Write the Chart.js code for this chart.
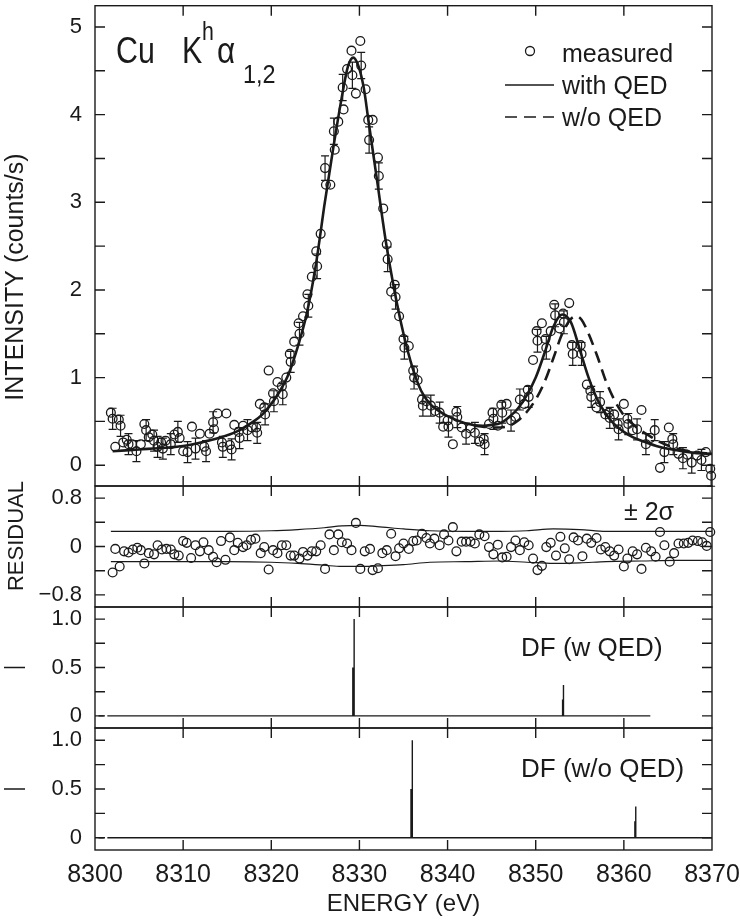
<!DOCTYPE html>
<html>
<head>
<meta charset="utf-8">
<script src="https://cdn.jsdelivr.net/npm/chart.js@4.4.0/dist/chart.umd.min.js"></script>
<style>
  body { margin: 0; background: #fff; }
  #wrap { position: relative; width: 740px; height: 921px; }
  #wrap canvas { position: absolute; left: 0; top: 0; }
</style>
</head>
<body>
<div id="wrap">
  <canvas id="intensity" width="740" height="921"></canvas>
  <canvas id="residual" width="740" height="921"></canvas>
  <canvas id="dfQed" width="740" height="921"></canvas>
  <canvas id="dfNoQed" width="740" height="921"></canvas>
</div>
<script>
// x axis
var energyTicks = [8300, 8310, 8320, 8330, 8340, 8350, 8360, 8370];

// measured spectrum (counts/s), err = 0 means no bar drawn
var measEnergy = [8301.8, 8302.0, 8302.3, 8302.7, 8302.9, 8303.2, 8303.6, 8303.8, 8304.2, 8304.7,
  8305.2, 8305.6, 8305.8, 8306.1, 8306.5, 8306.7, 8307.1, 8307.5, 8307.7, 8308.0,
  8308.6, 8309.0, 8309.4, 8309.6, 8310.0, 8310.5, 8311.0, 8311.4, 8311.9, 8312.4,
  8312.6, 8313.0, 8313.4, 8313.5, 8313.9, 8314.4, 8314.5, 8314.9, 8315.3, 8315.5,
  8315.8, 8316.3, 8316.4, 8316.8, 8317.3, 8317.8, 8318.3, 8318.4, 8318.7, 8319.2,
  8319.3, 8319.7, 8320.2, 8320.3, 8320.7, 8321.2, 8321.3, 8321.7, 8322.1, 8322.2,
  8322.6, 8323.1, 8323.2, 8323.6, 8324.1, 8324.2, 8324.6, 8325.1, 8325.2, 8325.6,
  8326.1, 8326.2, 8326.7, 8327.1, 8327.2, 8327.6, 8328.1, 8328.2, 8328.6, 8329.1,
  8329.2, 8329.6, 8330.1, 8330.2, 8330.7, 8331.0, 8331.1, 8331.5, 8332.1, 8332.2,
  8332.7, 8333.1, 8333.2, 8333.6, 8334.0, 8334.1, 8334.5, 8335.0, 8335.1, 8335.6,
  8336.1, 8336.2, 8336.6, 8337.1, 8337.2, 8337.6, 8338.1, 8338.6, 8339.1, 8339.5,
  8340.0, 8340.1, 8340.6, 8341.0, 8341.1, 8341.6, 8342.1, 8342.6, 8343.1, 8343.6,
  8344.1, 8344.2, 8344.7, 8345.1, 8345.2, 8345.7, 8346.1, 8346.2, 8346.7, 8347.2,
  8347.7, 8348.2, 8348.7, 8349.1, 8349.2, 8349.7, 8350.1, 8350.2, 8350.7, 8351.1,
  8351.2, 8351.7, 8352.1, 8352.2, 8352.7, 8353.1, 8353.2, 8353.8, 8354.1, 8354.2,
  8355.1, 8355.2, 8355.8, 8356.2, 8356.3, 8356.9, 8357.3, 8357.9, 8358.3, 8358.4,
  8358.9, 8359.3, 8359.4, 8360.0, 8360.4, 8360.5, 8361.0, 8361.5, 8362.0, 8362.5,
  8363.0, 8363.5, 8364.1, 8364.6, 8365.1, 8365.5, 8365.6, 8366.2, 8366.7, 8367.2,
  8367.7, 8368.3, 8368.8, 8369.3, 8369.8, 8369.9];
var measCounts = [0.60, 0.53, 0.21, 0.52, 0.45, 0.26, 0.29, 0.24, 0.24, 0.16,
  0.24, 0.47, 0.40, 0.32, 0.35, 0.28, 0.21, 0.26, 0.19, 0.28,
  0.24, 0.35, 0.38, 0.31, 0.16, 0.15, 0.44, 0.19, 0.36, 0.21,
  0.16, 0.36, 0.49, 0.41, 0.59, 0.26, 0.21, 0.59, 0.23, 0.18,
  0.46, 0.38, 0.31, 0.45, 0.40, 0.43, 0.43, 0.37, 0.70, 0.66,
  0.58, 1.08, 0.82, 0.73, 0.95, 0.90, 0.81, 1.00, 1.27, 1.18,
  1.41, 1.62, 1.50, 1.70, 1.95, 1.82, 2.15, 2.44, 2.27, 2.64,
  3.39, 3.20, 3.20, 3.81, 3.60, 3.92, 4.31, 4.06, 4.52, 4.73,
  4.45, 4.24, 4.84, 4.56, 4.29, 3.94, 3.71, 3.94, 3.51, 3.30,
  2.93, 2.52, 2.35, 1.98, 2.06, 1.92, 1.70, 1.44, 1.34, 1.36,
  1.08, 1.00, 0.97, 0.75, 0.68, 0.73, 0.68, 0.62, 0.60, 0.44,
  0.51, 0.44, 0.24, 0.61, 0.55, 0.43, 0.36, 0.42, 0.37, 0.27,
  0.30, 0.24, 0.47, 0.60, 0.53, 0.45, 0.69, 0.60, 0.70, 0.51,
  0.55, 0.75, 0.70, 0.86, 0.78, 1.20, 1.53, 1.42, 1.62, 1.44,
  1.34, 1.53, 1.83, 1.71, 1.56, 1.73, 1.63, 1.85, 1.37, 1.27,
  1.37, 1.27, 0.92, 0.85, 0.78, 0.66, 0.72, 0.58, 0.60, 0.54,
  0.58, 0.47, 0.41, 0.70, 0.53, 0.47, 0.40, 0.41, 0.63, 0.24,
  0.31, 0.40, -0.03, 0.15, 0.43, 0.30, 0.24, 0.13, 0.08, 0.12,
  0.03, 0.11, 0.06, 0.15, -0.04, -0.12];
var measErr = [0, 0.12, 0, 0, 0.12, 0, 0, 0.12, 0, 0.12,
  0, 0, 0.12, 0, 0, 0.12, 0.12, 0, 0.12, 0,
  0.12, 0, 0.12, 0, 0, 0.12, 0, 0.12, 0, 0,
  0.12, 0, 0.12, 0, 0, 0, 0.12, 0, 0, 0.12,
  0, 0, 0.12, 0, 0.12, 0, 0, 0.12, 0, 0,
  0.12, 0, 0, 0.12, 0, 0, 0.12, 0, 0, 0.12,
  0, 0, 0.13, 0, 0, 0.13, 0, 0, 0.14, 0,
  0.14, 0, 0, 0.15, 0, 0, 0.15, 0, 0, 0,
  0.15, 0, 0, 0.15, 0, 0, 0.15, 0, 0, 0.15,
  0, 0, 0.14, 0, 0, 0.14, 0, 0, 0.13, 0,
  0, 0.13, 0, 0, 0.12, 0, 0.12, 0, 0.12, 0,
  0, 0.12, 0, 0, 0.12, 0, 0.12, 0, 0.12, 0,
  0, 0.12, 0, 0, 0.12, 0, 0, 0.12, 0, 0.12,
  0, 0.12, 0, 0, 0.12, 0, 0, 0.13, 0, 0,
  0.13, 0, 0, 0.13, 0, 0, 0.13, 0, 0, 0.13,
  0, 0.13, 0, 0, 0.12, 0, 0.12, 0, 0, 0.12,
  0, 0, 0.12, 0, 0, 0.12, 0, 0.12, 0, 0.12,
  0, 0.12, 0, 0.12, 0, 0, 0.12, 0, 0.12, 0,
  0.12, 0, 0.12, 0, 0, 0.12];

// fitted profiles
var fitQedEnergy = [8302, 8305, 8308, 8310, 8312, 8314, 8316, 8318, 8319, 8320, 8321, 8322, 8323, 8324,
  8325, 8325.6, 8326, 8327, 8328, 8328.7, 8329.3, 8329.9, 8330.5, 8331, 8332, 8333, 8334, 8335,
  8336, 8337, 8338, 8339, 8340, 8342, 8344, 8345, 8346, 8347, 8348, 8349, 8350, 8351, 8352,
  8353, 8354, 8355, 8356, 8357, 8358, 8359, 8360, 8361, 8362, 8364, 8366, 8368, 8370];
var fitQedCounts = [0.16, 0.18, 0.20, 0.22, 0.26, 0.31, 0.38, 0.50, 0.58, 0.70, 0.85, 1.05, 1.35, 1.72,
  2.25, 2.66, 2.95, 3.60, 4.20, 4.55, 4.65, 4.55, 4.30, 3.95, 3.25, 2.55, 1.98, 1.50,
  1.12, 0.85, 0.70, 0.62, 0.56, 0.48, 0.45, 0.46, 0.48, 0.55, 0.65, 0.80, 1.00, 1.28, 1.58,
  1.72, 1.63, 1.32, 1.00, 0.75, 0.58, 0.46, 0.38, 0.32, 0.28, 0.21, 0.17, 0.14, 0.13];
var fitNoQedEnergy = [8343, 8344, 8345, 8346, 8347, 8348, 8349, 8350, 8351, 8352, 8353, 8354, 8354.6,
  8355.2, 8356, 8357, 8358, 8359, 8360, 8361, 8362, 8363, 8364, 8366, 8368, 8370];
var fitNoQedCounts = [0.45, 0.44, 0.43, 0.43, 0.45, 0.51, 0.61, 0.75, 0.95, 1.22, 1.50, 1.67, 1.70,
  1.66, 1.50, 1.24, 0.95, 0.73, 0.57, 0.47, 0.39, 0.33, 0.27, 0.19, 0.15, 0.13];

// residuals
var residEnergy = [8302.0, 8302.3, 8302.8, 8303.3, 8303.8, 8304.3, 8304.8, 8305.2, 8305.6, 8306.1,
  8306.7, 8307.1, 8307.6, 8308.1, 8308.6, 8309.0, 8309.5, 8310.0, 8310.4, 8310.9,
  8311.4, 8311.9, 8312.3, 8312.9, 8313.4, 8313.8, 8314.3, 8314.8, 8315.3, 8315.8,
  8316.2, 8316.8, 8317.2, 8317.7, 8318.2, 8318.8, 8319.2, 8319.7, 8320.2, 8320.7,
  8321.2, 8321.7, 8322.2, 8322.6, 8323.2, 8323.6, 8324.1, 8324.6, 8325.1, 8325.6,
  8326.1, 8326.6, 8327.1, 8327.6, 8328.0, 8328.6, 8329.1, 8329.6, 8330.1, 8330.6,
  8331.2, 8331.5, 8332.1, 8332.6, 8333.1, 8333.6, 8334.1, 8334.5, 8335.0, 8335.6,
  8336.1, 8336.5, 8337.1, 8337.6, 8338.0, 8338.5, 8339.1, 8339.6, 8340.1, 8340.6,
  8341.0, 8341.6, 8342.1, 8342.6, 8343.1, 8343.6, 8344.2, 8344.7, 8345.2, 8345.7,
  8346.2, 8346.7, 8347.2, 8347.7, 8348.2, 8348.7, 8349.2, 8349.7, 8350.2, 8350.7,
  8351.2, 8351.7, 8352.3, 8352.8, 8353.3, 8353.8, 8354.3, 8354.8, 8355.3, 8355.8,
  8356.3, 8356.9, 8357.4, 8357.9, 8358.4, 8358.9, 8359.4, 8360.0, 8360.4, 8361.0,
  8361.5, 8362.0, 8362.5, 8363.1, 8363.6, 8364.1, 8364.6, 8365.2, 8365.7, 8366.2,
  8366.8, 8367.3, 8367.8, 8368.4, 8368.9, 8369.4, 8369.8];
var residValue = [-0.43, -0.04, -0.33, -0.08, -0.10, -0.05, -0.02, -0.06, -0.28, -0.11,
  -0.13, 0.02, -0.05, -0.04, -0.05, -0.13, -0.15, 0.09, 0.06, -0.19,
  0.02, -0.08, 0.07, -0.06, -0.17, -0.26, 0.09, -0.22, 0.15, -0.06,
  0.06, -0.01, 0.02, 0.11, 0.13, -0.11, -0.01, -0.38, -0.06, -0.11,
  0.02, 0.02, -0.15, -0.15, -0.20, -0.09, -0.15, -0.08, -0.08, 0.02,
  -0.37, 0.20, -0.06, 0.20, 0.07, 0.05, -0.06, 0.39, -0.37, -0.08,
  -0.04, -0.39, -0.36, -0.11, -0.06, 0.21, -0.16, -0.03, 0.05, -0.04,
  0.09, 0.10, 0.21, 0.14, 0.05, 0.13, 0.02, 0.20, 0.10, 0.32,
  -0.08, 0.08, 0.08, 0.08, 0.05, 0.20, 0.17, -0.01, -0.13, 0.03,
  -0.18, -0.17, -0.01, 0.10, -0.06, 0.07, 0.02, -0.20, -0.39, -0.32,
  -0.01, 0.06, -0.15, 0.16, -0.03, -0.21, 0.15, 0.10, -0.16, 0.13,
  0.06, 0.14, -0.05, -0.01, -0.08, -0.15, -0.05, -0.33, -0.20, -0.08,
  -0.13, -0.37, -0.02, -0.08, -0.17, 0.24, 0.02, -0.25, -0.11, 0.05,
  0.05, 0.06, 0.10, 0.09, 0.07, 0.01, 0.24];
var sigmaEnergy = [8301.8, 8306, 8310, 8315, 8320, 8323, 8326, 8328, 8330, 8332, 8335, 8338,
  8342, 8346, 8349, 8352, 8355, 8358, 8362, 8366, 8370];
var sigmaUpper = [0.25, 0.25, 0.25, 0.25, 0.26, 0.28, 0.31, 0.34, 0.35, 0.33, 0.29, 0.26,
  0.25, 0.25, 0.26, 0.29, 0.28, 0.25, 0.25, 0.25, 0.25];
var sigmaLower = [-0.25, -0.25, -0.25, -0.25, -0.26, -0.28, -0.31, -0.33, -0.33, -0.32, -0.30, -0.26,
  -0.25, -0.24, -0.26, -0.28, -0.27, -0.25, -0.24, -0.23, -0.23];

// Dirac-Fock line positions and strengths
var dfQedEnergy = [8329.25, 8329.4, 8353.05, 8353.15];
var dfQedStrength = [0.5, 1.0, 0.17, 0.32];
var dfQedBase = [8300.4, 8301.0, 8301.4, 8363.0];
var dfNoQedEnergy = [8335.85, 8336.0, 8361.25, 8361.35];
var dfNoQedStrength = [0.5, 1.0, 0.17, 0.32];
var dfNoQedBase = [8300.4, 8301.0, 8301.4, 8370.0];

// y ticks
var intensityTicks = [0, 0.5, 1, 1.5, 2, 2.5, 3, 3.5, 4, 4.5, 5];
var intensityLabels = ["0", "", "1", "", "2", "", "3", "", "4", "", "5"];
var residualTicks = [-0.8, -0.4, 0, 0.4, 0.8];
var residualLabels = ["\u22120.8", "", "0", "", "0.8"];
var dfTicks = [0, 0.25, 0.5, 0.75, 1.0];
var dfLabels = ["0", "", "0.5", "", "1.0"];

var INK = "#1a1a1a";
var SANS = "'Liberation Sans', Arial, sans-serif";

function xy(xs, ys) {
  return xs.map(function (x, i) { return { x: x, y: ys[i] }; });
}
function sticks(xs, hs) {
  var out = [];
  xs.forEach(function (x, i) {
    out.push({ x: x, y: 0 }, { x: x, y: hs[i] }, { x: x, y: null });
  });
  return out;
}
function segments(xs) {
  var out = [];
  for (var i = 0; i < xs.length; i += 2) {
    out.push({ x: xs[i], y: 0 }, { x: xs[i + 1], y: 0 }, { x: xs[i + 1], y: null });
  }
  return out;
}

// frame + inward ticks, like the original plotting package
var framePlugin = {
  id: "frame",
  afterDraw: function (chart, args, opts) {
    var ctx = chart.ctx, a = chart.chartArea;
    var xs = chart.scales.x, ys = chart.scales.y;
    ctx.save();
    ctx.strokeStyle = INK;
    ctx.lineWidth = 1.4;
    ctx.strokeRect(a.left, a.top, a.right - a.left, a.bottom - a.top);
    ctx.beginPath();
    energyTicks.slice(1, -1).forEach(function (v) {
      var px = xs.getPixelForValue(v);
      ctx.moveTo(px, a.top); ctx.lineTo(px, a.top + 10);
      ctx.moveTo(px, a.bottom); ctx.lineTo(px, a.bottom - 10);
    });
    opts.yTicks.forEach(function (v) {
      var py = ys.getPixelForValue(v);
      ctx.moveTo(a.left, py); ctx.lineTo(a.left + 10, py);
      ctx.moveTo(a.right, py); ctx.lineTo(a.right - 10, py);
    });
    if (opts.sideMark !== undefined) {
      var my = ys.getPixelForValue(opts.sideMark);
      ctx.moveTo(4, my); ctx.lineTo(25, my);
    }
    ctx.stroke();
    ctx.restore();
  }
};

var errorBarPlugin = {
  id: "errorBars",
  afterDatasetsDraw: function (chart, args, opts) {
    if (!opts.errs) return;
    var ctx = chart.ctx, xs = chart.scales.x, ys = chart.scales.y;
    var pts = chart.data.datasets[0].data;
    ctx.save();
    ctx.strokeStyle = INK;
    ctx.lineWidth = 1.2;
    ctx.beginPath();
    pts.forEach(function (p, i) {
      var e = opts.errs[i];
      if (!e) return;
      var px = xs.getPixelForValue(p.x);
      var y1 = ys.getPixelForValue(p.y + e), y2 = ys.getPixelForValue(p.y - e);
      ctx.moveTo(px, y1); ctx.lineTo(px, y2);
      ctx.moveTo(px - 4, y1); ctx.lineTo(px + 4, y1);
      ctx.moveTo(px - 4, y2); ctx.lineTo(px + 4, y2);
    });
    ctx.stroke();
    ctx.restore();
  }
};

var notesPlugin = {
  id: "notes",
  afterDraw: function (chart, args, opts) {
    var ctx = chart.ctx;
    ctx.save();
    ctx.fillStyle = INK;
    (opts.items || []).forEach(function (n) {
      ctx.save();
      ctx.font = n.font;
      ctx.translate(n.x, n.y);
      if (n.rotate) {
        ctx.rotate(-Math.PI / 2);
        ctx.textAlign = "center";
        ctx.textBaseline = "middle";
      } else {
        ctx.textAlign = "left";
        ctx.textBaseline = "alphabetic";
      }
      ctx.scale(n.sx || 1, 1);
      ctx.fillText(n.text, 0, 0);
      ctx.restore();
    });
    if (opts.legend) {
      var L = opts.legend;
      ctx.font = L.font;
      ctx.textAlign = "left";
      ctx.strokeStyle = INK;
      ctx.lineWidth = 1.3;
      chart.data.datasets.forEach(function (ds, i) {
        var y = L.y + i * L.step;
        ctx.beginPath();
        ctx.setLineDash(ds.borderDash || []);
        if (ds.showLine) {
          ctx.moveTo(L.x - 57, y - 9); ctx.lineTo(L.x - 8, y - 9);
        } else {
          ctx.arc(L.x - 32, y - 11, 4.5, 0, Math.PI * 2);
        }
        ctx.stroke();
        ctx.setLineDash([]);
        ctx.fillText(ds.label, L.x, y);
      });
    }
    ctx.restore();
  }
};

function panelOptions(p) {
  return {
    responsive: false,
    animation: false,
    devicePixelRatio: 1,
    layout: { padding: { top: p.top, bottom: p.bottom, left: 0, right: 28 } },
    plugins: {
      legend: { display: false },
      tooltip: { enabled: false },
      frame: { yTicks: p.yTicks, sideMark: p.sideMark },
      errorBars: { errs: p.errs },
      notes: { items: p.notes, legend: p.legend }
    },
    scales: {
      x: {
        type: "linear",
        min: 8300,
        max: 8370,
        display: !!p.showX,
        afterBuildTicks: function (s) { s.ticks = energyTicks.map(function (v) { return { value: v }; }); },
        afterFit: function (s) {
          if (p.showX) s.height = 71;
          s.paddingLeft = 0;
          s.paddingRight = 0;
        },
        grid: { display: false, drawTicks: false },
        border: { display: false },
        ticks: {
          autoSkip: false, maxRotation: 0, padding: 10, color: INK,
          font: { family: SANS, size: 25 },
          callback: function (v) { return String(v); }
        },
        title: { display: true, text: "ENERGY (eV)", color: INK, font: { family: SANS, size: 24 }, padding: { top: 0, bottom: 2 } }
      },
      y: {
        min: p.min,
        max: p.max,
        afterBuildTicks: function (s) { s.ticks = p.yTicks.map(function (v) { return { value: v }; }); },
        afterFit: function (s) {
          s.width = 95;
          s.paddingTop = 0;
          s.paddingBottom = 0;
        },
        grid: { display: false, drawTicks: false },
        border: { display: false },
        ticks: {
          autoSkip: false,
          padding: 13,
          color: INK,
          font: { family: SANS, size: 22 },
          callback: function (v) { return p.yLabels[p.yTicks.indexOf(v)]; }
        }
      }
    }
  };
}

var plugins = [framePlugin, errorBarPlugin, notesPlugin];

new Chart(document.getElementById("intensity"), {
  type: "scatter",
  data: {
    datasets: [
      {
        label: "measured",
        data: xy(measEnergy, measCounts),
        pointRadius: 4.4,
        pointBorderWidth: 1.3,
        pointBorderColor: INK,
        pointBackgroundColor: "rgba(0,0,0,0)",
        clip: false
      },
      {
        label: "with QED",
        data: xy(fitQedEnergy, fitQedCounts),
        showLine: true,
        pointRadius: 0,
        borderColor: INK,
        borderWidth: 2.6,
        cubicInterpolationMode: "monotone"
      },
      {
        label: "w/o QED",
        data: xy(fitNoQedEnergy, fitNoQedCounts),
        showLine: true,
        pointRadius: 0,
        borderColor: INK,
        borderWidth: 2.6,
        borderDash: [12, 7],
        cubicInterpolationMode: "monotone"
      }
    ]
  },
  options: panelOptions({
    top: 1, bottom: 435, min: -0.237, max: 5.243,
    yTicks: intensityTicks, yLabels: intensityLabels, errs: measErr,
    legend: { x: 562, y: 62, step: 32, font: "25px " + SANS },
    notes: [
      { text: "Cu", x: 116, y: 63, font: "37px " + SANS, sx: 0.82 },
      { text: "K", x: 182, y: 63, font: "37px " + SANS, sx: 0.82 },
      { text: "h", x: 202, y: 40, font: "26px " + SANS, sx: 0.82 },
      { text: "\u03b1", x: 217, y: 63, font: "37px " + SANS, sx: 0.85 },
      { text: "1,2", x: 243, y: 83, font: "26px " + SANS, sx: 0.9 },
      { text: "INTENSITY (counts/s)", x: 16, y: 277, rotate: true, font: "25px " + SANS }
    ]
  }),
  plugins: plugins
});

new Chart(document.getElementById("residual"), {
  type: "scatter",
  data: {
    datasets: [
      {
        label: "residual",
        data: xy(residEnergy, residValue),
        pointRadius: 4.4,
        pointBorderWidth: 1.3,
        pointBorderColor: INK,
        pointBackgroundColor: "rgba(0,0,0,0)",
        clip: false
      },
      {
        label: "+2 sigma",
        data: xy(sigmaEnergy, sigmaUpper),
        showLine: true, pointRadius: 0, borderColor: INK, borderWidth: 1.2,
        cubicInterpolationMode: "monotone"
      },
      {
        label: "-2 sigma",
        data: xy(sigmaEnergy, sigmaLower),
        showLine: true, pointRadius: 0, borderColor: INK, borderWidth: 1.2,
        cubicInterpolationMode: "monotone"
      }
    ]
  },
  options: panelOptions({
    top: 486, bottom: 314, min: -1, max: 1,
    yTicks: residualTicks, yLabels: residualLabels,
    notes: [
      { text: "\u00b1 2\u03c3", x: 624, y: 520, font: "25px " + SANS },
      { text: "RESIDUAL", x: 17, y: 536, rotate: true, font: "22px " + SANS }
    ]
  }),
  plugins: plugins
});

function dfChart(id, energy, strength, base, top, bottom, label, showX) {
  return new Chart(document.getElementById(id), {
    type: "scatter",
    data: {
      datasets: [
        {
          label: label,
          data: sticks(energy, strength),
          showLine: true, pointRadius: 0, borderColor: INK, borderWidth: 1.4
        },
        {
          label: "baseline",
          data: segments(base),
          showLine: true, pointRadius: 0, borderColor: INK, borderWidth: 1.4
        }
      ]
    },
    options: panelOptions({
      top: top, bottom: bottom, min: -0.125, max: 1.125, showX: showX,
      yTicks: dfTicks, yLabels: dfLabels, sideMark: 0.5,
      notes: [{ text: label, x: 521, y: showX ? 777 : 656, font: "26px " + SANS }]
    }),
    plugins: plugins
  });
}

dfChart("dfQed", dfQedEnergy, dfQedStrength, dfQedBase, 607, 193, "DF (w QED)", false);
dfChart("dfNoQed", dfNoQedEnergy, dfNoQedStrength, dfNoQedBase, 728, 0, "DF (w/o QED)", true);
</script>
</body>
</html>
